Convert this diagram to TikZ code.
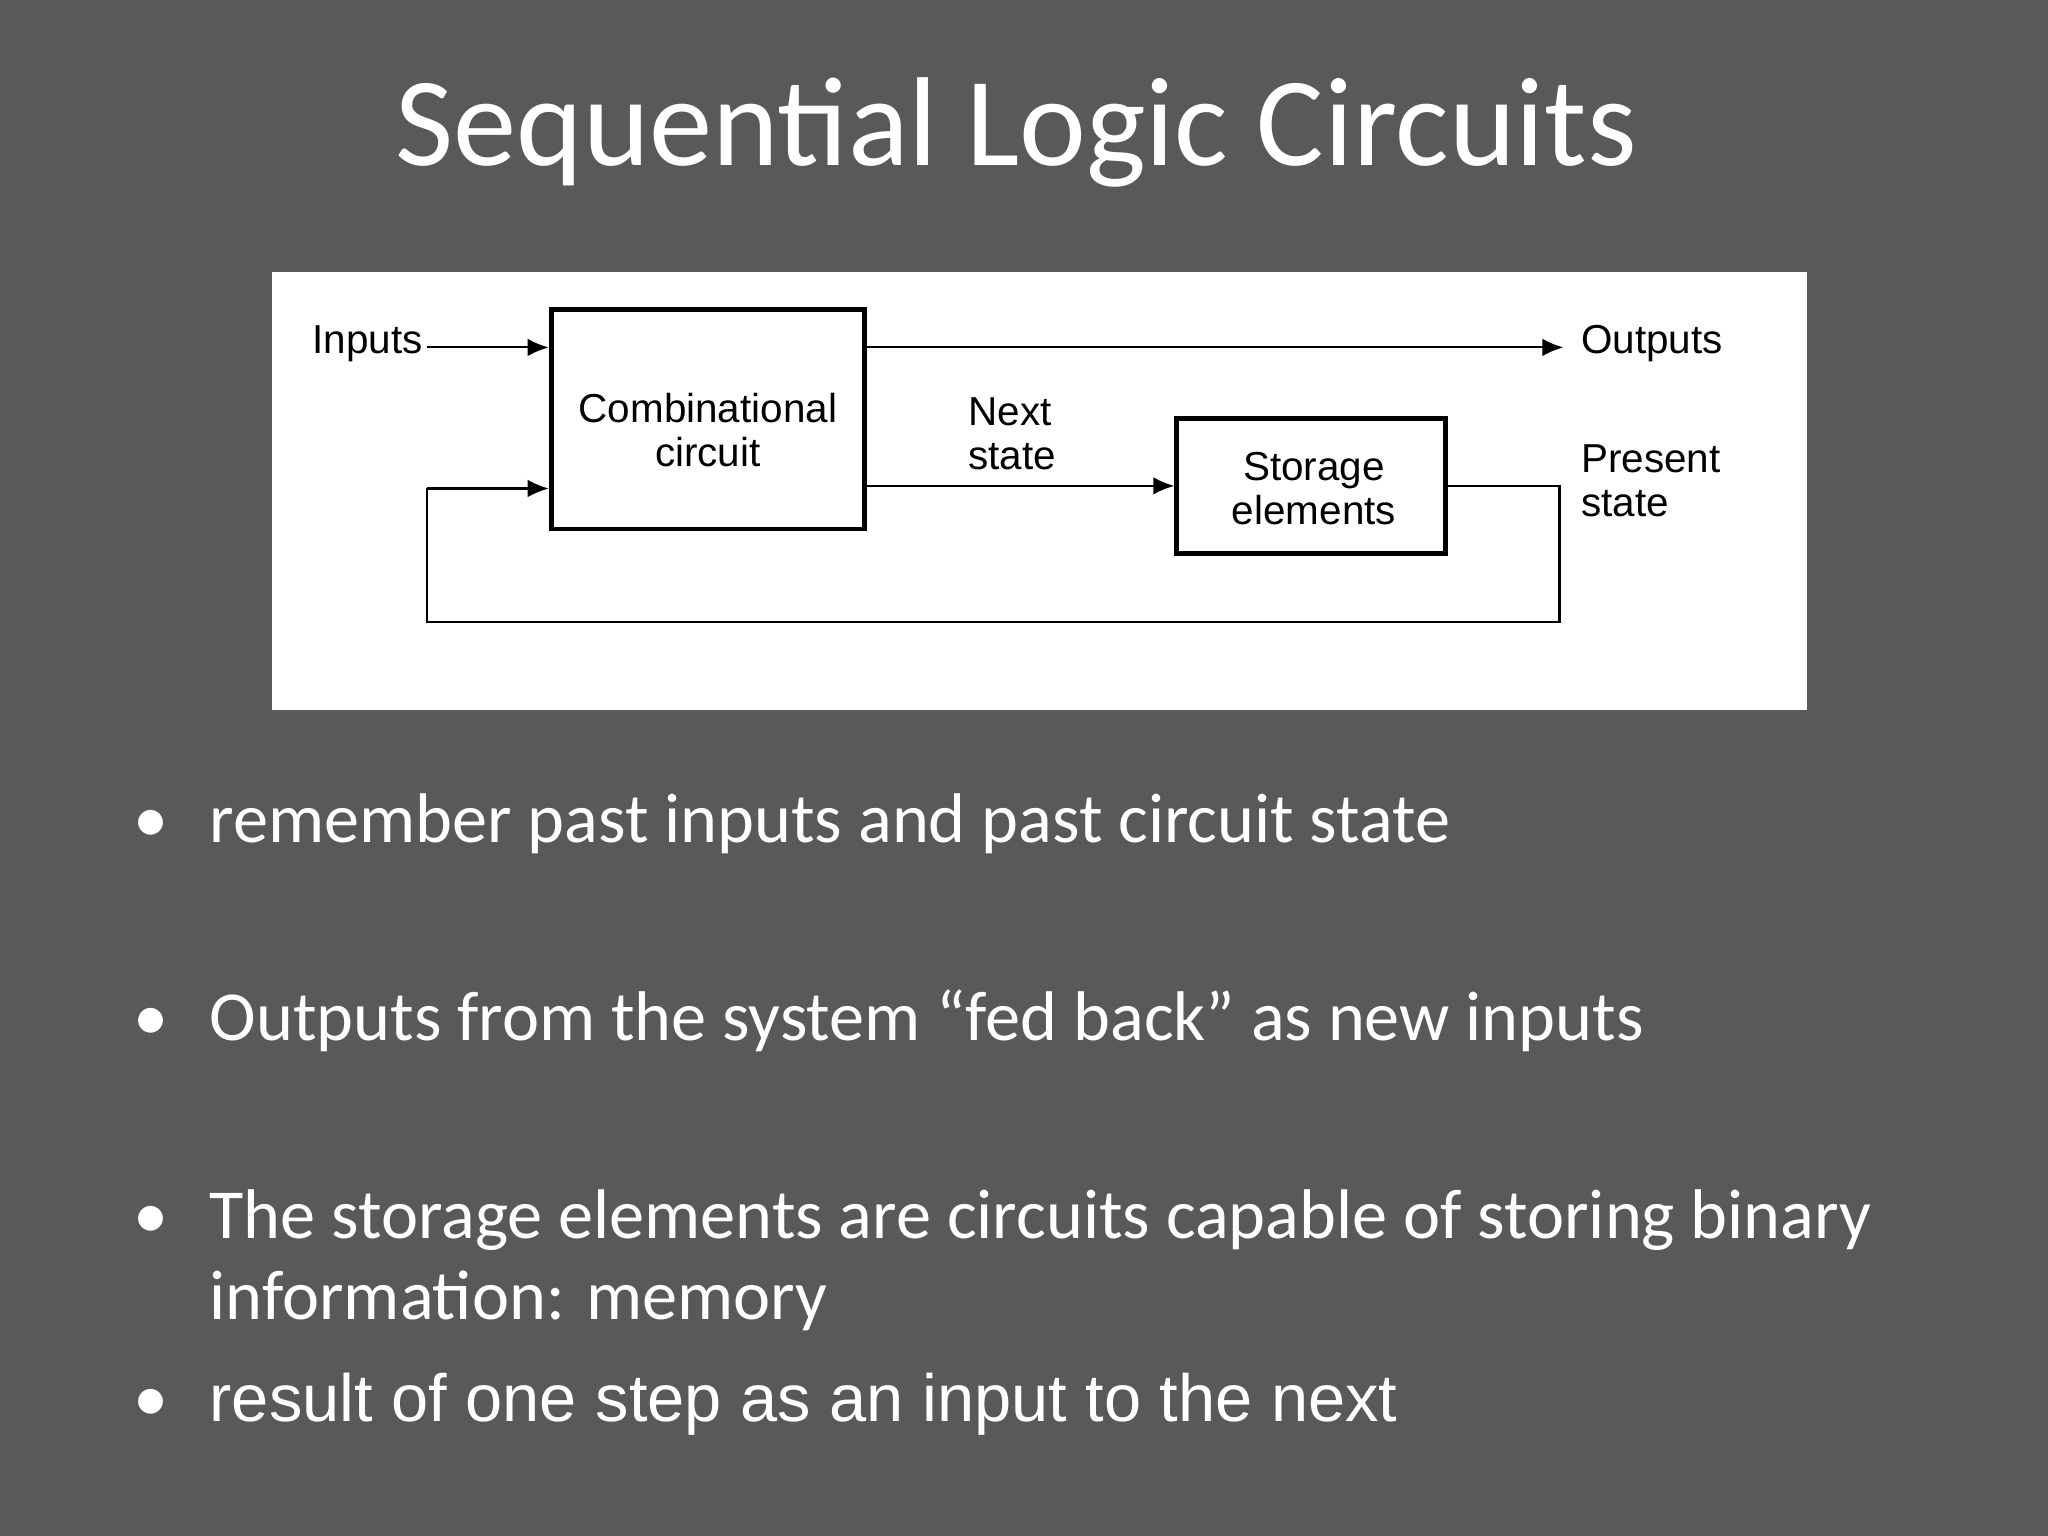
\documentclass[tikz,border=0pt]{standalone}
\usepackage{fontspec}
\setmainfont{Carlito}
\newfontfamily\arialf{Liberation Sans}
\usetikzlibrary{arrows.meta}
\definecolor{bg}{HTML}{595959}
\begin{document}
\begin{tikzpicture}[x=0.01306cm,y=-0.01306cm,
  blk/.style={draw=black,line width=1.4pt,fill=white,inner sep=0},
  dtxt/.style={font=\arialf\fontsize{11.5}{12.5}\selectfont,align=left,inner sep=0},
  wire/.style={line width=0.6pt},
  arr/.style={wire,-{Latex[length=6pt,width=5pt]}},
  bul/.style={text=white,anchor=base west,inner sep=0,font=\fontsize{20}{24}\selectfont}]
\useasboundingbox[fill=bg] (0,0) rectangle (1568,1176);
\node[text=white,anchor=base,inner sep=0,font=\fontsize{36}{40}\selectfont] (title) at (778,127) {Sequential Logic Circuits};
\node[fill=white,minimum width=1175*0.01306cm,minimum height=335*0.01306cm,inner sep=0,anchor=north west] (panel) at (208,208) {};
\node[blk,minimum width=240*0.01306cm,minimum height=168*0.01306cm] (comb) at (542,321) {};
\node[dtxt,align=center] (combt) at (542,329) {Combinational\\circuit};
\node[blk,minimum width=206*0.01306cm,minimum height=103*0.01306cm] (stor) at (1004,372) {};
\node[dtxt,align=center] (stort) at (1006,374) {Storage\\elements};
\node[dtxt,anchor=east] (in) at (324,263) {Inputs};
\node[dtxt,anchor=west] (out) at (1210,263) {Outputs};
\node[dtxt] (ns) at (775,332) {Next\\state};
\node[dtxt,anchor=west] (ps) at (1210,368) {Present\\state};
\coordinate (inL) at (327,266);
\coordinate (outR) at (1197,266);
\coordinate (f1) at (1194,372);
\coordinate (f2) at (1194,476);
\coordinate (f3) at (327,476);
\coordinate (f4) at (327,374);
\draw[arr] (inL) -- (inL -| comb.west);
\draw[arr] (comb.east |- outR) -- (outR);
\draw[arr] (comb.east |- stor.west) -- (stor.west);
\draw[wire] (stor.east) -- (f1) -- (f2) -- (f3) -- (f4);
\draw[arr] (f4) -- (f4 -| comb.west);
\foreach \y/\t [count=\i] in {645/{remember past inputs and past circuit state},797/{Outputs from the system “fed back” as new inputs},948/{The storage elements are circuits capable of storing binary},1010/{information: memory}}{
  \node[bul] (b\i) at (160,\y) {\t};}
\node[bul,font=\arialf\fontsize{19}{24}\selectfont] (b5) at (160,1088) {result of one step as an input to the next};
\foreach \y [count=\i] in {645,797,948,1088}{
  \node[bul] (d\i) at (102,\y) {•};}
\end{tikzpicture}
\end{document}
